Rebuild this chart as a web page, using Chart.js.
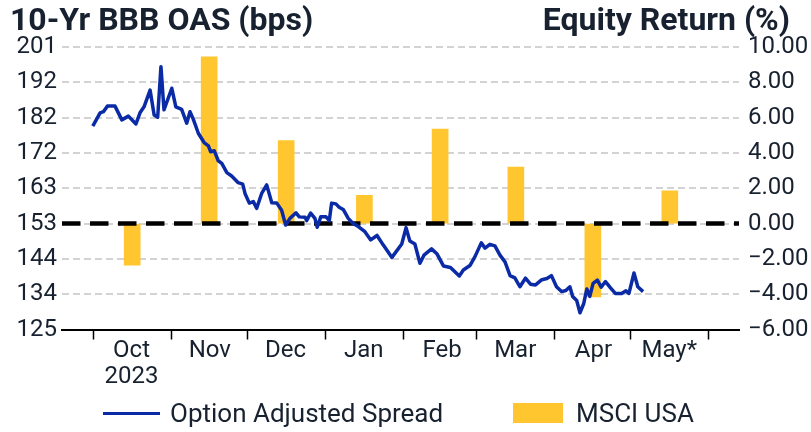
<!DOCTYPE html>
<html><head><meta charset="utf-8">
<script src="https://cdn.jsdelivr.net/npm/chart.js@4"></script>
<style>
html,body{margin:0;padding:0;background:#fff;}
#wrap{position:relative;width:811px;height:432px;overflow:hidden;}
#c{position:absolute;left:0;top:0;}
.t{position:absolute;top:3px;font-family:Roboto,sans-serif;font-weight:700;font-size:32px;line-height:32px;color:#17212f;white-space:nowrap;}
.lg{position:absolute;font-family:Roboto,sans-serif;font-size:26px;line-height:26px;color:#17212f;white-space:nowrap;}
.sw{position:absolute;}
</style></head><body>
<div id="wrap">
<canvas id="c" width="811" height="432"></canvas>
<div class="t" style="left:10px">10-Yr BBB OAS (bps)</div>
<div class="t" style="right:21px">Equity Return (%)</div>
<div id="legend"></div>
</div>
<script>
// ---- data ----
const monthStartDays = [0, 31, 61, 92, 123, 152, 183, 213, 244]; // days since 1 Oct 2023
const monthLabels = [['Oct', '2023'], 'Nov', 'Dec', 'Jan', 'Feb', 'Mar', 'Apr', 'May*', ''];
const leftTickLabels = ['125', '134', '144', '153', '163', '172', '182', '192', '201'];
const rightTickLabels = ['\u22126.00', '\u22124.00', '\u22122.00', '0.00', '2.00', '4.00', '6.00', '8.00', '10.00'];
const msciReturn = [-2.35, 9.45, 4.7, 1.6, 5.35, 3.2, -4.15, 1.85];
const oasDays = [-0.1, 2.8, 4.1, 5.7, 8.7, 11.4, 14.0, 17.0, 18.6, 20.2, 22.6, 24.2, 25.6, 26.9, 28.1, 31.2, 32.8, 35.1, 37.1, 38.4, 39.7, 41.7, 44.0, 45.7, 46.6, 48.0, 49.6, 51.0, 53.0, 54.9, 57.5, 59.3, 60.2, 61.9, 63.5, 64.8, 66.8, 68.8, 70.8, 72.8, 74.7, 76.3, 78.0, 80.4, 81.7, 84.0, 84.6, 86.2, 87.9, 88.8, 90.2, 92.3, 93.6, 94.5, 96.2, 97.5, 99.1, 101.1, 102.9, 105.1, 107.7, 110.0, 112.5, 115.0, 118.4, 122.3, 124.0, 125.5, 127.5, 129.5, 131.1, 134.1, 136.2, 138.8, 141.6, 145.1, 146.7, 149.3, 151.3, 153.8, 155.3, 157.2, 159.2, 161.2, 163.2, 165.2, 167.1, 169.1, 171.3, 173.3, 175.3, 177.8, 179.8, 181.6, 183.6, 185.6, 187.3, 188.9, 190.0, 191.6, 192.9, 194.4, 195.6, 196.8, 198.1, 199.8, 201.3, 203.0, 205.0, 206.9, 209.4, 211.1, 212.3, 214.3, 215.8, 217.9];
const oasValues = [179.7, 183.3, 183.6, 185.1, 185.1, 181.4, 182.4, 180.3, 183.3, 184.9, 189.4, 182.7, 182.1, 195.7, 184.1, 189.9, 184.9, 184.2, 180.5, 183.6, 181.6, 177.8, 175.3, 174.4, 172.8, 173.1, 170.4, 169.7, 167.2, 166.3, 164.5, 164.1, 161.6, 159.0, 159.4, 157.6, 161.6, 163.9, 159.1, 159.0, 157.1, 153.1, 154.9, 156.4, 155.3, 155.2, 154.3, 156.3, 154.9, 152.5, 155.3, 155.3, 154.3, 159.0, 158.8, 157.9, 157.3, 154.9, 153.6, 152.7, 151.3, 149.1, 150.3, 147.7, 144.4, 148.0, 152.4, 148.8, 148.0, 142.8, 145.0, 146.7, 145.4, 142.1, 141.7, 139.4, 141.0, 142.2, 144.6, 148.3, 146.9, 147.9, 147.5, 145.0, 143.2, 139.5, 138.9, 136.5, 138.8, 137.2, 137.0, 138.4, 138.7, 139.5, 136.5, 135.2, 135.5, 136.5, 133.9, 132.8, 129.5, 132.0, 135.9, 133.9, 137.4, 138.3, 136.4, 137.9, 136.2, 134.7, 134.7, 135.4, 134.7, 140.2, 136.5, 135.2];

// ---- build ----
const X_MIN = -12.3, X_MAX = 255.9;
const TEXT = '#17212f';
const LINE_COLOR = '#0b2ba6';
const BAR_COLOR = '#ffc62f';
const barPoints = msciReturn.map((v, i) => ({ x: (monthStartDays[i] + monthStartDays[i + 1]) / 2, y: v }));
const linePoints = oasDays.map((d, i) => ({ x: d, y: oasValues[i] }));

const chart = new Chart(document.getElementById('c'), {
  type: 'bar',
  data: {
    datasets: [
      { type: 'line', label: 'Option Adjusted Spread', data: linePoints, yAxisID: 'y', xAxisID: 'x',
        borderColor: LINE_COLOR, backgroundColor: LINE_COLOR, borderWidth: 3.5, pointRadius: 0,
        tension: 0, borderJoinStyle: 'round', order: 0 },
      { type: 'line', label: 'zero', data: [{ x: X_MIN, y: 0 }, { x: X_MAX, y: 0 }], yAxisID: 'y2', xAxisID: 'x',
        borderColor: '#000', borderWidth: 4.5, borderDash: [18.5, 9.5], pointRadius: 0, order: 1 },
      { type: 'bar', label: 'MSCI USA', data: barPoints, yAxisID: 'y2', xAxisID: 'x',
        backgroundColor: BAR_COLOR, borderWidth: 0, barThickness: 16, order: 2 }
    ]
  },
  options: {
    responsive: false, animation: false, devicePixelRatio: 1,
    layout: { padding: { top: 47, left: 0, right: 0, bottom: 0 } },
    plugins: { legend: { display: false }, tooltip: { enabled: false } },
    scales: {
      x: {
        type: 'linear', position: 'bottom', min: X_MIN, max: X_MAX, offset: false,
        afterBuildTicks: s => { s.ticks = monthStartDays.map(v => ({ value: v })); },
        afterFit: s => { s.height = 102.5; },
        grid: { offset: false, drawOnChartArea: false, drawTicks: true, tickLength: 10, tickColor: '#000', tickWidth: 1.5 },
        border: { display: true, color: '#000', width: 2 },
        ticks: { autoSkip: false, maxRotation: 0, minRotation: 0, labelOffset: 38.5, padding: -2,
          font: { family: 'Roboto', size: 24, lineHeight: 1.1 }, color: TEXT,
          callback: (v, i) => monthLabels[i] }
      },
      y: {
        position: 'left', min: 125, max: 201,
        afterBuildTicks: s => { s.ticks = leftTickLabels.map((_, i) => ({ value: 125 + 9.5 * i })); },
        afterFit: s => { s.width = 62; },
        grid: { color: '#d3d3d3', lineWidth: 2, drawTicks: false },
        border: { display: false, dash: [7, 4] },
        ticks: { padding: 5, font: { family: 'Roboto', size: 24 }, color: TEXT,
          callback: (v, i) => leftTickLabels[i] }
      },
      y2: {
        position: 'right', min: -6, max: 10,
        afterBuildTicks: s => { s.ticks = rightTickLabels.map((_, i) => ({ value: -6 + 2 * i })); },
        afterFit: s => { s.width = 72; },
        grid: { drawOnChartArea: false, drawTicks: false },
        border: { display: false },
        ticks: { padding: 9, font: { family: 'Roboto', size: 24 }, color: TEXT,
          callback: (v, i) => rightTickLabels[i] }
      }
    }
  }
});

// HTML legend built from the chart's datasets
(function () {
  const lg = document.getElementById('legend');
  const ds = chart.data.datasets;
  const line = ds[0], bar = ds[2];
  lg.innerHTML =
    '<div class="sw" style="left:103px;top:411.5px;width:57px;height:3px;background:' + line.borderColor + '"></div>' +
    '<div class="lg" style="left:170px;top:400px">' + line.label + '</div>' +
    '<div class="sw" style="left:513px;top:403px;width:50px;height:20px;background:' + bar.backgroundColor + '"></div>' +
    '<div class="lg" style="left:576px;top:400px">' + bar.label + '</div>';
})();
</script>
</body></html>
